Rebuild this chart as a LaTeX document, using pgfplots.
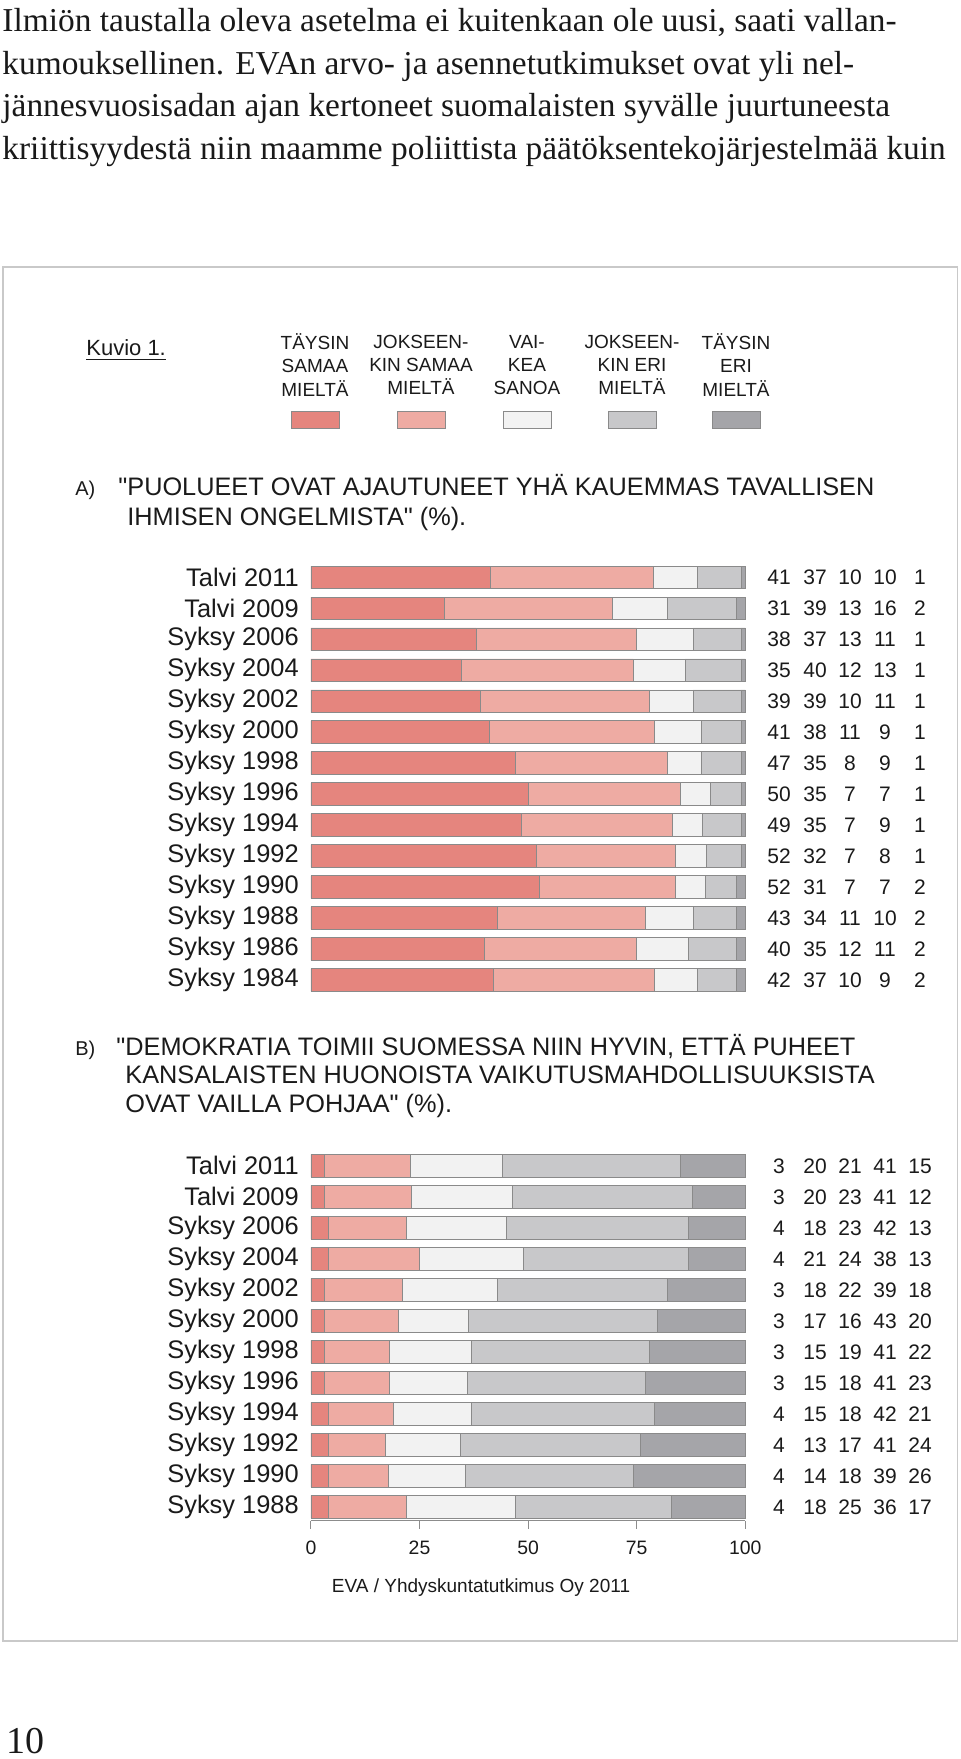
\documentclass[border=0pt]{standalone}
\usepackage{fontspec}
\setmainfont{Liberation Sans}[Ligatures=TeXOff]
\newfontfamily\bodyserif{Liberation Serif}
\usepackage{pgfplots}
\usepackage{pgfplotstable}
\pgfplotsset{compat=1.18}

\definecolor{tsamaa}{HTML}{E5857E}
\definecolor{jsamaa}{HTML}{EEABA3}
\definecolor{vaikea}{HTML}{F2F2F2}
\definecolor{jeri}{HTML}{C8C8CA}
\definecolor{teri}{HTML}{A5A5A9}
\definecolor{edge}{HTML}{8A8A8A}
\definecolor{framec}{HTML}{C9C9C9}
\definecolor{ink}{HTML}{1A1A1A}

% A) "Puolueet ovat ajautuneet yha kauemmas..." (%)
\pgfplotstableread[col sep=comma]{
label,a,b,c,d,e
Talvi 2011,41,37,10,10,1
Talvi 2009,31,39,13,16,2
Syksy 2006,38,37,13,11,1
Syksy 2004,35,40,12,13,1
Syksy 2002,39,39,10,11,1
Syksy 2000,41,38,11,9,1
Syksy 1998,47,35,8,9,1
Syksy 1996,50,35,7,7,1
Syksy 1994,49,35,7,9,1
Syksy 1992,52,32,7,8,1
Syksy 1990,52,31,7,7,2
Syksy 1988,43,34,11,10,2
Syksy 1986,40,35,12,11,2
Syksy 1984,42,37,10,9,2
}\tableA

% B) "Demokratia toimii Suomessa niin hyvin..." (%)
\pgfplotstableread[col sep=comma]{
label,a,b,c,d,e
Talvi 2011,3,20,21,41,15
Talvi 2009,3,20,23,41,12
Syksy 2006,4,18,23,42,13
Syksy 2004,4,21,24,38,13
Syksy 2002,3,18,22,39,18
Syksy 2000,3,17,16,43,20
Syksy 1998,3,15,19,41,22
Syksy 1996,3,15,18,41,23
Syksy 1994,4,15,18,42,21
Syksy 1992,4,13,17,41,24
Syksy 1990,4,14,18,39,26
Syksy 1988,4,18,25,36,17
}\tableB

% bars are drawn as shares of the row total (rounded figures don't always add to 100)
\newcommand{\share}[1]{100*\thisrow{#1}/(\thisrow{a}+\thisrow{b}+\thisrow{c}+\thisrow{d}+\thisrow{e})}

\pgfplotsset{
  rows/.style={
    xbar stacked, scale only axis, width=217.2pt,
    xmin=0, xmax=100, bar width=11.4pt,
    anchor=north west, clip=false,
    yticklabel style={font=\fontsize{12.7pt}{14pt}\selectfont, text=ink, inner sep=0pt, anchor=east},
  },
  vals/.style={
    scale only axis, width=217.2pt, xmin=0, xmax=100,
    anchor=north west, clip=false, hide axis,
  },
  seg/.style={fill=#1, draw=edge, line width=0.4pt},
  vlab/.style={draw=none, mark=none,
    nodes near coords={\pgfplotspointmeta}, point meta=explicit symbolic,
    every node near coord/.append style={anchor=base, inner sep=0pt, yshift=-3.75pt,
      font=\fontsize{10.5pt}{12pt}\selectfont, text=ink}},
}

\begin{document}
\begin{tikzpicture}
\useasboundingbox (0,0) rectangle (480pt,-879.5pt);

% running text of the page
\begin{scope}[every node/.style={anchor=base west, inner sep=0pt, text=black!90,
    font=\bodyserif\fontsize{16.7pt}{20pt}\selectfont}]
\node at (1pt,-16pt) {Ilmiön taustalla oleva asetelma ei kuitenkaan ole uusi, saati vallan-};
\node at (1pt,-37.2pt) {kumouksellinen. EVAn arvo- ja asennetutkimukset ovat yli nel-};
\node at (1pt,-58.4pt) {jännesvuosisadan ajan kertoneet suomalaisten syvälle juurtuneesta};
\node at (1pt,-79.6pt) {kriittisyydestä niin maamme poliittista päätöksentekojärjestelmää kuin};
\node[font=\bodyserif\fontsize{19pt}{22pt}\selectfont] at (3pt,-876.5pt) {10};
\end{scope}

\draw[framec, line width=0.8pt] (1.5pt,-133.5pt) rectangle (478.8pt,-820.5pt);

\node[anchor=base west, inner sep=0pt, text=ink, font=\fontsize{11pt}{13pt}\selectfont]
  at (43pt,-178pt) {\underline{Kuvio 1.}};

% legend
\begin{scope}[every node/.style={align=center, inner sep=0pt, text=ink,
    font=\fontsize{9.5pt}{11.6pt}\selectfont}]
\node at (157.5pt,-182.5pt) {TÄYSIN\\SAMAA\\MIELTÄ};
\node at (210.5pt,-182.5pt) {JOKSEEN-\\KIN SAMAA\\MIELTÄ};
\node at (263.5pt,-182.5pt) {VAI-\\KEA\\SANOA};
\node at (316pt,-182.5pt) {JOKSEEN-\\KIN ERI\\MIELTÄ};
\node at (368pt,-182.5pt) {TÄYSIN\\ERI\\MIELTÄ};
\end{scope}
\foreach \cx/\col in {157.5/tsamaa, 210.5/jsamaa, 263.5/vaikea, 316/jeri, 368/teri}
  \draw[fill=\col, draw=edge, line width=0.4pt] (\cx pt-12pt,-205.5pt) rectangle (\cx pt+12pt,-214pt);

% titles
\begin{scope}[every node/.style={anchor=base west, inner sep=0pt, text=ink,
    font=\fontsize{12.65pt}{15pt}\selectfont}]
\node[font=\fontsize{10pt}{12pt}\selectfont] at (37.5pt,-247.5pt) {A)};
\node at (59pt,-247.5pt) {"PUOLUEET OVAT AJAUTUNEET YHÄ KAUEMMAS TAVALLISEN};
\node at (63.5pt,-262.5pt) {IHMISEN ONGELMISTA" (\%).};
\node[font=\fontsize{10pt}{12pt}\selectfont] at (37.5pt,-527.5pt) {B)};
\node at (58pt,-527.5pt) {"DEMOKRATIA TOIMII SUOMESSA NIIN HYVIN, ETTÄ PUHEET};
\node at (62.5pt,-541.5pt) {KANSALAISTEN HUONOISTA VAIKUTUSMAHDOLLISUUKSISTA};
\node at (62.5pt,-556pt) {OVAT VAILLA POHJAA" (\%).};
\end{scope}

% chart A
\begin{axis}[rows, at={(155.45pt,-281pt)}, height=216.7pt,
  ymin=-13.5, ymax=0.5, ytick={-13,-12,...,0},
  yticklabels={Syksy 1984,Syksy 1986,Syksy 1988,Syksy 1990,Syksy 1992,Syksy 1994,Syksy 1996,Syksy 1998,Syksy 2000,Syksy 2002,Syksy 2004,Syksy 2006,Talvi 2009,Talvi 2011},
  xtick=\empty, axis line style={draw=none}, major tick length=0pt,
  yticklabel style={xshift=-5.9pt}]
\addplot[seg=tsamaa] table[x expr=\share{a}, y expr=-\coordindex]{\tableA};
\addplot[seg=jsamaa] table[x expr=\share{b}, y expr=-\coordindex]{\tableA};
\addplot[seg=vaikea] table[x expr=\share{c}, y expr=-\coordindex]{\tableA};
\addplot[seg=jeri]   table[x expr=\share{d}, y expr=-\coordindex]{\tableA};
\addplot[seg=teri]   table[x expr=\share{e}, y expr=-\coordindex]{\tableA};
\end{axis}
\begin{axis}[vals, at={(155.45pt,-281pt)}, height=216.7pt, ymin=-13.5, ymax=0.5]
\addplot[vlab] table[x expr=107.76, y expr=-\coordindex, meta=a]{\tableA};
\addplot[vlab] table[x expr=116.05, y expr=-\coordindex, meta=b]{\tableA};
\addplot[vlab] table[x expr=124.1,  y expr=-\coordindex, meta=c]{\tableA};
\addplot[vlab] table[x expr=132.16, y expr=-\coordindex, meta=d]{\tableA};
\addplot[vlab] table[x expr=140.22, y expr=-\coordindex, meta=e]{\tableA};
\end{axis}

% chart B
\begin{axis}[rows, at={(155.45pt,-575.1pt)}, height=185.2pt,
  ymin=-11.45, ymax=0.5, ytick={-11,-10,...,0},
  yticklabels={Syksy 1988,Syksy 1990,Syksy 1992,Syksy 1994,Syksy 1996,Syksy 1998,Syksy 2000,Syksy 2002,Syksy 2004,Syksy 2006,Talvi 2009,Talvi 2011},
  axis x line*=bottom, axis y line*=left,
  y axis line style={draw=none}, ytick style={draw=none},
  x axis line style={-, draw=black!45, line width=0.5pt},
  xtick={0,25,50,75,100}, tick align=outside, major tick length=4pt,
  xtick style={draw=black!45, line width=0.5pt},
  xticklabel style={font=\fontsize{9.7pt}{11pt}\selectfont, text=ink, yshift=-2.5pt},
  /pgf/number format/assume math mode=true,
  yticklabel style={xshift=-1.9pt}]
\addplot[seg=tsamaa] table[x expr=\share{a}, y expr=-\coordindex]{\tableB};
\addplot[seg=jsamaa] table[x expr=\share{b}, y expr=-\coordindex]{\tableB};
\addplot[seg=vaikea] table[x expr=\share{c}, y expr=-\coordindex]{\tableB};
\addplot[seg=jeri]   table[x expr=\share{d}, y expr=-\coordindex]{\tableB};
\addplot[seg=teri]   table[x expr=\share{e}, y expr=-\coordindex]{\tableB};
\end{axis}
\begin{axis}[vals, at={(155.45pt,-575.1pt)}, height=185.2pt, ymin=-11.45, ymax=0.5]
\addplot[vlab] table[x expr=107.76, y expr=-\coordindex, meta=a]{\tableB};
\addplot[vlab] table[x expr=116.05, y expr=-\coordindex, meta=b]{\tableB};
\addplot[vlab] table[x expr=124.1,  y expr=-\coordindex, meta=c]{\tableB};
\addplot[vlab] table[x expr=132.16, y expr=-\coordindex, meta=d]{\tableB};
\addplot[vlab] table[x expr=140.22, y expr=-\coordindex, meta=e]{\tableB};
\end{axis}

\node[text=ink, font=\fontsize{9.5pt}{11pt}\selectfont] at (240.5pt,-794pt)
  {EVA / Yhdyskuntatutkimus Oy 2011};
\end{tikzpicture}
\end{document}
